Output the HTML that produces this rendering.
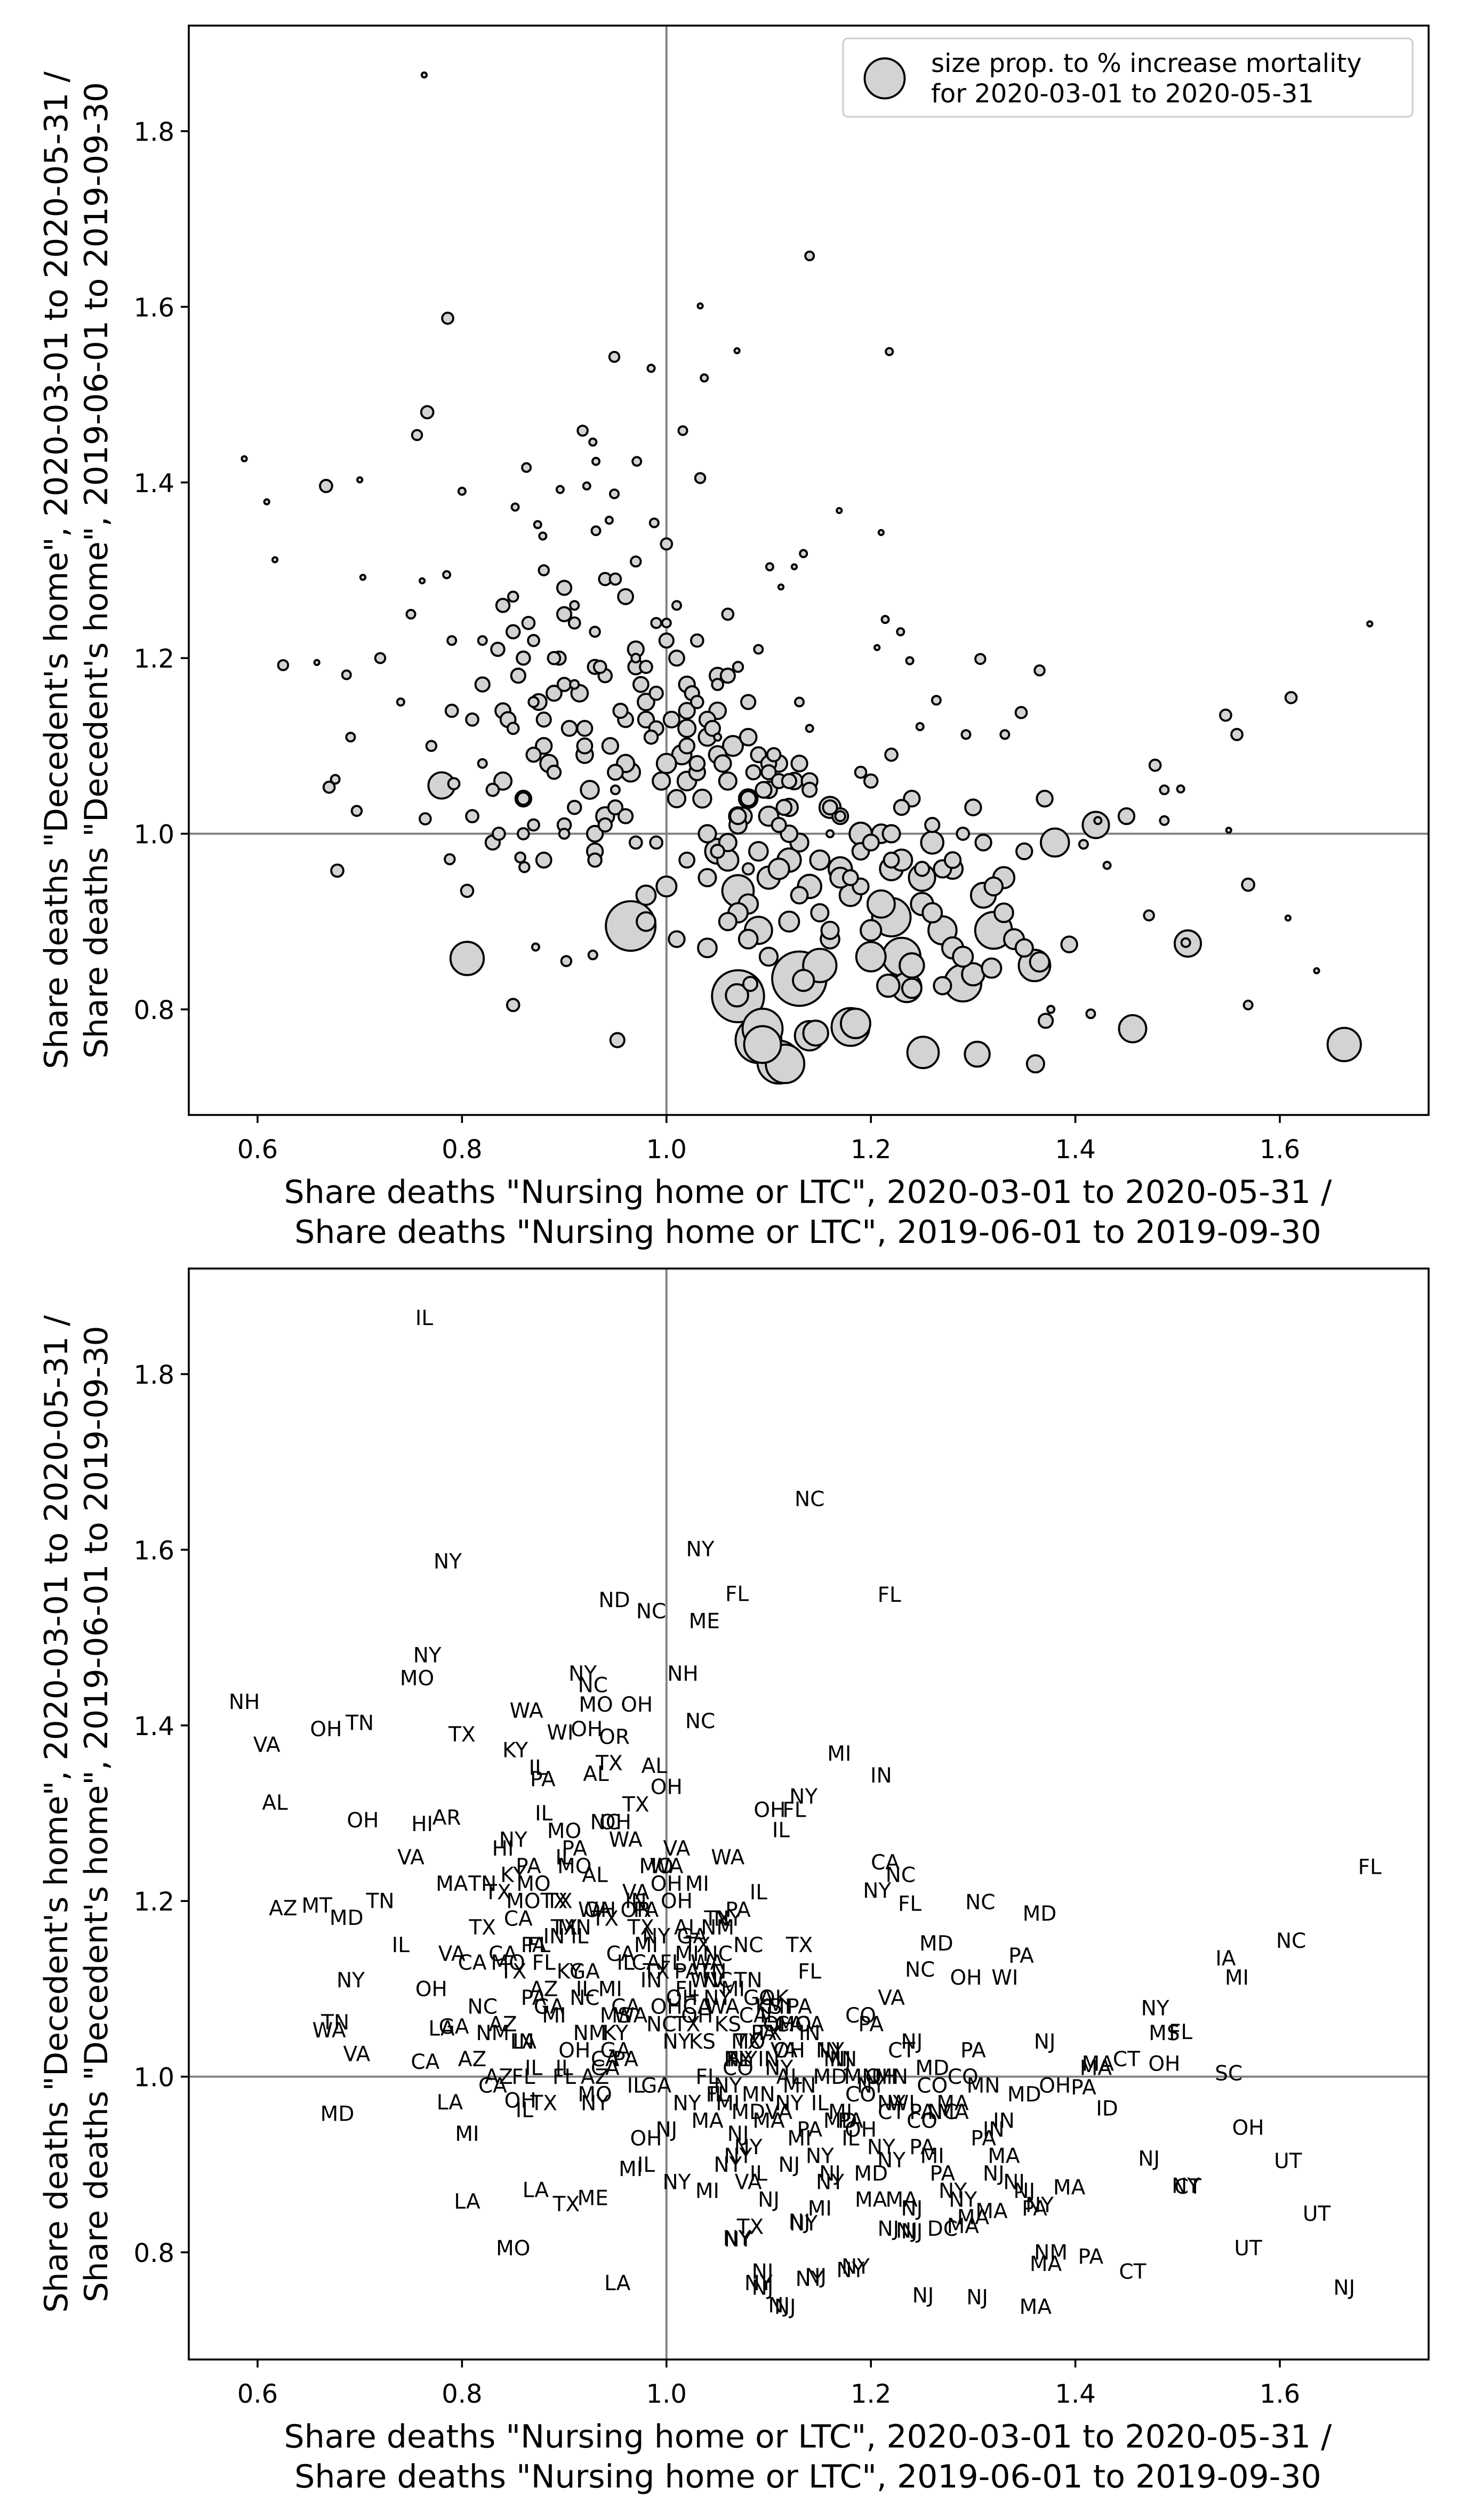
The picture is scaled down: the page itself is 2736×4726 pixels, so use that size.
<!DOCTYPE html>
<html><head><meta charset="utf-8">
<style>
html,body{margin:0;padding:0;background:#fff;}
svg{display:block;font-family:"DejaVu Sans","Liberation Sans",sans-serif;}
</style></head>
<body>
<svg id="fig" width="2736" height="4726" viewBox="0 0 912 1575.33" xmlns="http://www.w3.org/2000/svg">
<rect x="0" y="0" width="912" height="1575.33" fill="#fff"/>
<g id="top"></g>
<g id="bot"></g>
</svg>
<script>
// x: nursing-home share ratio, y: decedent's-home share ratio, sizes: % increase mortality, states: label
const xs = [0.763,1.14,1.033,1.069,1.218,0.786,0.949,0.985,1.037,0.766,0.756,1.016,0.587,0.609,0.667,0.7,0.8,0.918,0.928,0.863,0.931,0.971,0.896,0.922,0.949,0.852,1.033,0.874,0.879,0.931,0.944,0.988,1.169,1.21,0.617,1.134,1.101,1.125,1.112,0.703,0.761,0.785,1.214,1.229,1.206,1.238,1.307,1.365,1.688,0.625,0.658,1.611,1.547,1.558,1.347,1.264,1.248,1.293,1.331,0.691,1.478,1.487,1.503,1.487,1.55,1.422,1.431,1.408,1.569,0.678,0.788,0.805,0.805,1.472,1.508,1.608,1.636,1.569,1.663,1.456,1.415,1.371,1.376,1.361,1.304,1.251,0.85,0.952,1.094,1.116,1.185,1.146,1.094,1.394,1.365,1.318,1.069,1.082,1.217,1.24,1.27,1.134,0.872,0.902,0.928,0.764,0.857,0.836,0.792,0.67,0.676,0.697,0.687,0.861,
0.965,1.07,1.13,1.09,1.11,1.18,1.23,1.22,1.29,1.32,1.15,1.36,1.07,0.78,1.38,1.42,1.51,1.235,1.14,1.2,1.27,1.09,1.21,1.25,1.31,1.17,1.05,1.12,1.26,1.33,1.19,1.16,1.28,1.1,1.02,1.0,0.98,1.04,1.06,1.08,1.12,1.15,1.2,1.24,1.28,1.3,1.35,1.45,1.37,1.22,
0.82,0.84,0.86,0.88,0.9,0.92,0.94,0.96,0.98,1.0,1.02,1.04,1.06,1.08,1.1,0.83,0.85,0.87,0.89,0.91,0.93,0.95,0.97,0.99,1.01,1.03,1.05,1.07,1.09,1.11,0.81,0.84,0.87,0.9,0.93,0.96,0.99,1.02,1.05,1.08,0.86,0.89,0.92,0.95,0.98,1.01,1.04,1.07,1.1,1.13,0.88,0.91,0.94,0.97,1.0,1.03,1.06,0.82,0.9,0.95,1.0,1.05,1.13,1.16,1.19,1.22,1.17,1.14,0.75,0.72,0.74,0.79,1.02,1.06,0.97,0.93,1.12,1.18,
0.835,0.845,0.855,0.865,0.875,0.885,0.895,0.905,0.915,0.925,0.935,0.945,0.955,0.965,0.975,0.985,0.995,1.005,1.015,1.025,1.035,1.045,1.055,1.065,1.075,1.085,1.095,1.105,1.115,1.125,
0.84,0.86,0.88,0.9,0.92,0.94,0.96,0.98,1.0,1.02,1.04,1.06,1.08,1.1,1.12,1.14,1.16,0.85,0.87,0.89,0.91,0.93,0.95,0.97,0.99,1.01,1.03,1.05,1.07,1.09,
1.06,1.08,1.1,1.12,1.14,1.16,1.18,1.2,1.22,1.24,1.26,1.28,1.3,1.32,1.34,1.07,1.09,1.11,1.13,1.15,1.17,1.19,1.21,1.23,1.25,1.27,1.29,1.31,1.33,1.35,
1.03,1.05,1.08,1.11,1.14,1.17,1.2,1.23,1.26,1.29,0.98,1.01,1.04,1.07,1.1,1.13,1.16,1.19,1.22,1.25,
0.81,0.83,0.86,0.88,0.9,0.93,0.96,0.99,1.02,1.05,1.08,1.11,0.77,0.79,0.82,0.85,0.87,0.91,0.94,0.97];
const ys = [1.864,1.658,1.601,1.55,1.549,1.587,1.543,1.53,1.519,1.48,1.454,1.459,1.427,1.378,1.396,1.403,1.39,1.459,1.446,1.417,1.424,1.424,1.392,1.396,1.387,1.372,1.405,1.352,1.339,1.345,1.357,1.354,1.368,1.343,1.312,1.319,1.304,1.304,1.281,1.292,1.288,1.295,1.244,1.23,1.212,1.197,1.199,1.186,1.239,1.192,1.195,1.155,1.135,1.113,1.138,1.152,1.122,1.113,1.113,1.11,1.078,1.05,1.051,1.015,1.004,1.015,0.964,0.988,0.942,0.958,0.971,0.935,0.858,0.907,0.876,0.904,0.844,0.805,0.76,0.778,0.795,0.787,0.8,0.738,0.749,0.751,0.805,0.765,0.778,0.738,0.784,0.773,0.76,0.874,0.854,0.847,0.816,0.829,0.827,0.824,0.827,0.833,0.871,0.855,0.862,1.017,0.973,1.0,1.057,1.053,1.062,1.026,1.181,0.962,
0.895,0.815,0.835,0.765,0.74,0.78,0.86,0.905,0.83,0.89,0.85,0.85,0.935,1.055,0.99,1.01,0.875,0.825,0.77,0.86,0.89,0.89,0.92,0.95,0.93,0.96,0.98,0.97,0.99,0.95,1.0,1.03,0.96,1.02,1.06,0.94,0.93,0.87,0.9,0.88,1.03,0.91,0.99,1.04,0.97,1.03,0.98,1.02,1.04,1.0,
1.17,1.14,1.2,1.1,1.25,1.12,1.18,1.08,1.15,1.22,1.1,1.13,1.06,1.11,1.07,1.05,1.23,1.09,1.16,1.03,1.19,1.07,1.21,1.12,1.04,1.08,1.14,1.02,1.09,1.06,1.13,1.26,1.01,1.28,1.0,1.27,1.16,1.12,1.18,1.15,1.04,1.07,1.1,1.03,1.13,1.2,1.0,1.02,1.05,1.08,1.3,1.24,1.29,1.31,1.33,1.22,1.25,1.22,1.0,1.05,1.24,1.11,1.15,1.0,1.07,1.09,1.02,1.12,1.25,1.2,1.15,1.22,1.17,0.99,1.19,0.97,1.06,0.95,
1.21,1.13,1.18,1.24,1.15,1.08,1.2,1.12,1.16,1.05,1.19,1.1,1.14,1.07,1.17,1.11,1.06,1.13,1.09,1.16,1.04,1.12,1.08,1.1,1.02,1.07,1.05,1.09,1.03,1.06,
1.06,1.04,1.13,1.17,1.09,1.02,1.13,1.19,1.08,1.14,1.11,1.18,1.04,1.08,1.0,1.06,1.03,1.27,1.22,1.2,1.26,1.23,1.29,1.2,1.24,1.26,1.15,1.17,1.19,1.21,
0.97,0.92,0.95,0.9,0.94,0.88,0.93,0.89,0.96,0.85,0.91,0.87,0.84,0.94,0.88,1.01,0.98,0.96,0.99,0.97,0.95,0.98,1.0,0.97,0.92,0.96,0.86,0.99,0.91,0.87,
1.07,1.09,1.04,1.08,1.05,1.02,1.06,1.03,1.01,1.0,0.9,0.88,0.95,0.91,0.86,0.93,0.89,0.94,0.97,0.96,
1.02,0.99,1.0,0.97,1.01,0.98,1.02,0.99,0.97,0.98,0.96,1.01,1.1,1.14,1.08,1.12,1.15,1.17,1.01,0.99];
const sizes = [1,3,1,1,2,5,4,2,2,6,4,3,1,1,6,1,2,4,2,3,2,3,2,2,3,2,4,2,2,3,2,3,1,1,1,2,2,1,1,1,1,2,2,2,1,2,4,4,1,4,1,5,5,5,5,3,2,3,3,3,5,3,2,3,1,2,2,3,6,6,4,6,45,4,3,1,1,3,45,30,3,8,2,12,25,40,6,8,65,60,35,25,55,10,15,15,20,8,20,15,12,18,2,4,3,5,4,6,5,5,3,4,3,4,
100,110,120,85,75,58,58,60,55,55,45,40,40,28,32,28,28,35,35,35,32,30,30,28,25,22,25,22,20,18,20,18,16,15,14,16,15,14,12,14,12,12,10,10,10,10,10,10,10,12,
8,9,7,10,8,9,7,12,11,8,9,10,12,11,8,6,7,8,9,7,8,9,10,8,12,9,11,10,9,8,6,7,5,8,10,9,7,12,10,8,6,7,9,8,10,9,12,13,11,10,4,5,6,4,5,6,5,3,4,3,3,2,3,2,5,6,4,2,3,4,2,3,10,12,9,7,8,9,
7,9,8,6,10,12,7,9,11,13,6,10,8,14,9,7,12,10,15,8,13,9,11,16,12,8,10,7,9,11,
12,10,8,7,11,13,9,6,15,10,12,8,14,9,11,10,8,4,5,6,3,4,5,3,4,3,6,5,4,3,
18,15,20,16,22,14,19,17,21,24,15,18,20,13,16,12,14,17,13,15,16,11,14,18,20,12,16,10,14,12,
10,12,9,11,8,10,7,9,8,6,14,10,12,15,13,11,12,10,9,8,
6,8,5,9,7,10,8,6,9,7,5,8,4,6,3,5,4,3,7,6];
const states = ["IL","NC","NY","FL","FL","NY","ND","NC","ME","NY","MO","NH","NH","VA","OH","TN","TX","NY","NC","WA","MO","OH","WI","OH","OR","KY","NC","IL","PA","AL","TX","AL","MI","IN","AL","NY","OH","FL","IL","OH","HI","AR","CA","NC","NY","FL","NC","MD","FL","AZ","MT","NC","IA","MI","PA","MD","NC","OH","WI","NY","NY","MS","FL","OH","SC","MA","ID","PA","OH","MD","LA","MI","LA","NJ","NY","UT","UT","UT","NJ","CT","PA","MA","NM","MA","NJ","NJ","MO","LA","NJ","NJ","NY","NJ","NJ","MA","NY","MA","NY","TX","NJ","NJ","DC","NY","LA","TX","ME","CA","OH","AZ","GA","WA","TN","VA","MD","IL",
"MI","NY","NJ","NY","NJ","NY","MA","NY","MA","NJ","MI","PA","NJ","LA","OH","MA","CT","NJ","NY","MA","PA","IL","NY","CO","PA","MI","IL","NY","CO","IN","MN","NY","MA","IN","TX","NJ","OH","MI","NY","VA","OH","NY","NY","NJ","MA","PA","MD","CT","NJ","MN",
"TX","CA","MO","AZ","IL","GA","TX","CA","MI","OH","FL","WA","KS","TN","IL","NM","KY","PA","IN","OH","WA","MS","VA","TX","NY","CA","NC","FL","GA","OH","CA","HI","IL","MO","AZ","WA","NY","PA","TX","NC","IN","MI","IL","GA","CA","OH","FL","NY","TX","PA","IL","MO","NC","TX","OH","MI","WA","TN","FL","KY","WA","NC","TX","MD","CO","VA","MN","FL","VA","TN","IL","MA","AL","NY","OR","NY","CA","PA",
"TX","MO","CA","PA","FL","GA","TX","KY","IL","NM","OH","MI","CA","WA","TX","IN","NC","FL","OH","GA","KS","TN","WA","MI","NY","CA","PA","OK","VA","MO",
"AZ","LA","FL","TX","NC","CA","IL","PA","OH","MI","WV","NY","MO","KS","AL","CA","IN","NY","MO","TX","PA","AL","OH","IN","MO","VA","TX","NM","PA","IL",
"MI","NY","MA","NJ","PA","NY","IL","MD","CT","NJ","MI","NY","MA","IN","NJ","CO","MN","VA","MN","IL","MD","CO","OH","WI","PA","NC","NY","MN","MA","NJ",
"OH","NY","TX","MI","IN","NJ","PA","CT","MD","CO","IL","NY","MA","NY","NJ","MI","NJ","OH","NY","PA",
"AZ","CA","FL","TX","IL","MO","PA","GA","NY","FL","MD","NY","OH","VA","NC","TX","PA","MN","CA","IL"];

const xTicks = [0.6,0.8,1.0,1.2,1.4,1.6];
const yTicks = [0.8,1.0,1.2,1.4,1.6,1.8];
const xTickLabels = ["0.6","0.8","1.0","1.2","1.4","1.6"];
const yTickLabels = ["0.8","1.0","1.2","1.4","1.6","1.8"];

const NS = "http://www.w3.org/2000/svg";
function mk(tag, attrs, parent){ const e=document.createElementNS(NS,tag); for(const k in attrs) e.setAttribute(k,attrs[k]); parent.appendChild(e); return e; }
const L=118, R=893;
const xScale = v => 161 + (v-0.6)*639;
function panel(g, top, bottom, y18, mode){
  const yScale = v => y18 + (1.8-v)*549;
  const vl = mk('line',{x1:xScale(1),x2:xScale(1),y1:top,y2:bottom,stroke:'#808080','stroke-width':1.3},g);
  
  
  const hl = mk('line',{x1:L,x2:R,y1:yScale(1),y2:yScale(1),stroke:'#808080','stroke-width':1.3},g);
  
  
  const marks = mk('g',{},g);
  
  
  const idx = xs.map((_,i)=>i).sort((a,b)=>sizes[b]-sizes[a]);
  for(const i of idx){
    if(mode==='bubble'){
      const c = mk('circle',{cx:xScale(xs[i]),cy:yScale(ys[i]),r:Math.max(1.4,1.55*Math.sqrt(sizes[i])),fill:'#d3d3d3',stroke:'#000','stroke-width':1.3},marks);
      
      
    } else {
      const t = mk('text',{x:xScale(xs[i]),y:yScale(ys[i])+4.5,'font-size':13,'text-anchor':'middle',fill:'#000'},marks);
      t.textContent = states[i];
      
      
    }
  }
  const fr = mk('rect',{x:L,y:top,width:R-L,height:bottom-top,fill:'none',stroke:'#000','stroke-width':1.2},g);
  
  
  xTicks.forEach((v,i)=>{
    const tk = mk('line',{x1:xScale(v),x2:xScale(v),y1:bottom,y2:bottom+5,stroke:'#000','stroke-width':1.2},g);
    
    
    const tl = mk('text',{x:xScale(v),y:bottom+27,'font-size':16,'text-anchor':'middle'},g);
    tl.textContent = xTickLabels[i];
    
    
  });
  yTicks.forEach((v,i)=>{
    const tk = mk('line',{x1:L-5,x2:L,y1:yScale(v),y2:yScale(v),stroke:'#000','stroke-width':1.2},g);
    
    
    const tl = mk('text',{x:L-9,y:yScale(v)+6,'font-size':16,'text-anchor':'end'},g);
    tl.textContent = yTickLabels[i];
    
    
  });
  const xl = mk('text',{x:505,y:bottom+55,'font-size':20,'text-anchor':'middle'},g);
  xl.textContent = 'Share deaths "Nursing home or LTC", 2020-03-01 to 2020-05-31 /';
  
  
  const xl2 = mk('text',{x:505,y:bottom+80,'font-size':20,'text-anchor':'middle'},g);
  xl2.textContent = ' Share deaths "Nursing home or LTC", 2019-06-01 to 2019-09-30';
  
  
  const cy=(top+bottom)/2;
  const yl = mk('text',{x:0,y:0,'font-size':20,'text-anchor':'middle',transform:`translate(42,${cy}) rotate(-90)`},g);
  yl.textContent = 'Share deaths "Decedent\'s home", 2020-03-01 to 2020-05-31 /';
  
  
  const yl2 = mk('text',{x:0,y:0,'font-size':20,'text-anchor':'middle',transform:`translate(67,${cy}) rotate(-90)`},g);
  yl2.textContent = ' Share deaths "Decedent\'s home", 2019-06-01 to 2019-09-30';
  
  
}
const gTop=document.getElementById('top'), gBot=document.getElementById('bot');
panel(gTop,16,697,82,'bubble');
panel(gBot,793,1475,859,'label');
const lg = mk('g',{},gTop);


mk('rect',{x:527,y:24,width:356,height:49,rx:3,fill:'#fff',stroke:'#ccc','stroke-width':1},lg);
const lc = mk('circle',{cx:553,cy:49,r:12.5,fill:'#d3d3d3',stroke:'#000','stroke-width':1.3},lg);


const lt1 = mk('text',{x:582,y:45,'font-size':16},lg);
lt1.textContent='size prop. to % increase mortality';


const lt2 = mk('text',{x:582,y:64,'font-size':16},lg);
lt2.textContent='for 2020-03-01 to 2020-05-31';


</script>
</body></html>
